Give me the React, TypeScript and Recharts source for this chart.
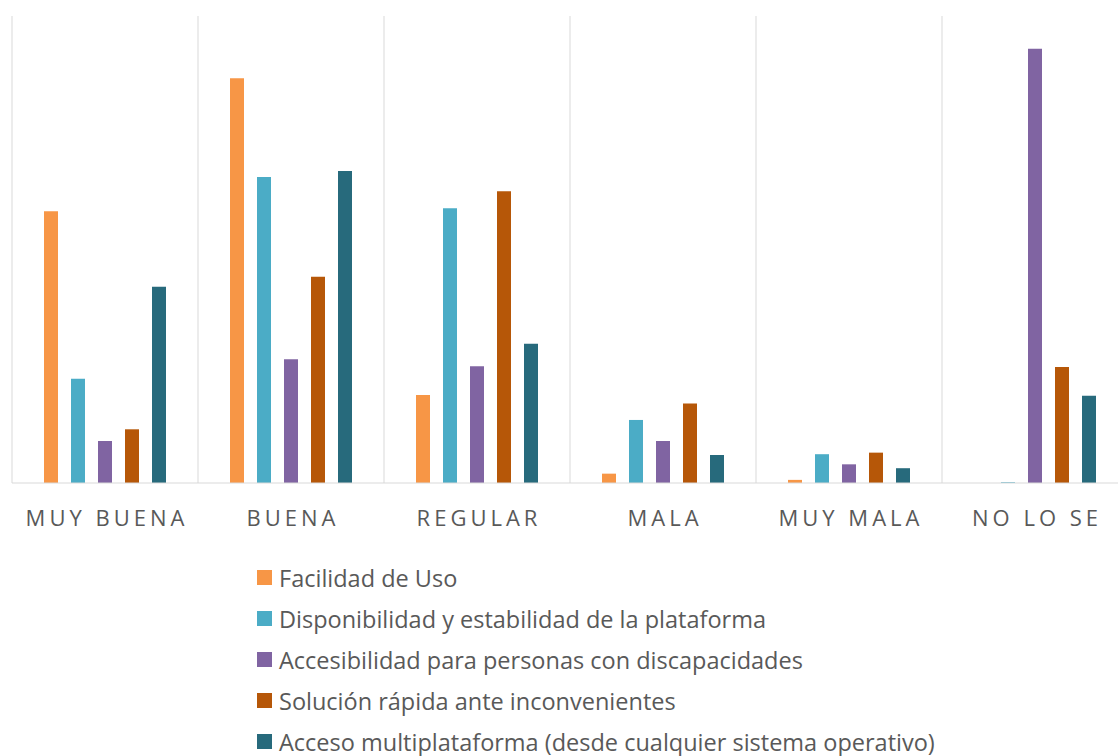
import { BarChart, Bar, XAxis, YAxis, CartesianGrid, Legend } from 'recharts';

const categories = ['MUY BUENA', 'BUENA', 'REGULAR', 'MALA', 'MUY MALA', 'NO LO SE'];

const facilidad = [34.9, 52.0, 11.3, 1.2, 0.4, 0];
const disponibilidad = [13.4, 39.3, 35.3, 8.1, 3.7, 0.1];
const accesibilidad = [5.4, 15.9, 15.0, 5.4, 2.4, 55.8];
const solucion = [6.9, 26.5, 37.5, 10.2, 3.9, 14.9];
const multiplataforma = [25.2, 40.1, 17.9, 3.6, 1.9, 11.2];

const series = [
  { key: 'facilidad', name: 'Facilidad de Uso', color: '#F79646', values: facilidad },
  { key: 'disponibilidad', name: 'Disponibilidad y estabilidad de la plataforma', color: '#4BACC6', values: disponibilidad },
  { key: 'accesibilidad', name: 'Accesibilidad para personas con discapacidades', color: '#8064A2', values: accesibilidad },
  { key: 'solucion', name: 'Solución rápida ante inconvenientes', color: '#B65708', values: solucion },
  { key: 'multiplataforma', name: 'Acceso multiplataforma (desde cualquier sistema operativo)', color: '#276A7C', values: multiplataforma },
];

const data = categories.map((name, i) => {
  const row: Record<string, string | number> = { name };
  series.forEach((s) => {
    row[s.key] = s.values[i];
  });
  return row;
});

const FONT = '"Open Sans", "Noto Sans", sans-serif';

const CategoryTick = ({ x, y, payload }: any) => (
  <text
    x={x + 2}
    y={y + 35}
    textAnchor="middle"
    fill="#595959"
    fontSize={22}
    fontFamily={FONT}
    letterSpacing={4}
  >
    {payload.value}
  </text>
);

const LegendContent = () => (
  <div style={{ fontFamily: FONT, fontSize: 23.5, color: '#595959' }}>
    {series.map((s) => (
      <div key={s.key} style={{ display: 'flex', alignItems: 'center', height: 41, whiteSpace: 'nowrap' }}>
        <span style={{ display: 'inline-block', width: 15, height: 15, background: s.color, marginRight: 7 }} />
        <span>{s.name}</span>
      </div>
    ))}
  </div>
);

export default function App() {
  return (
    <div style={{ position: 'absolute', left: 0, top: 0, width: 1118, height: 756, overflow: 'hidden', background: '#fff' }}>
      <BarChart
        width={1130}
        height={756}
        data={data}
        margin={{ top: 16, right: 2, bottom: 0, left: 12 }}
        barCategoryGap={32}
        barGap={13}
        barSize={14}
      >
        <CartesianGrid
          horizontal={false}
          stroke="#d9d9d9"
          verticalCoordinatesGenerator={({ offset }: any) =>
            categories.map((_, i) => offset.left + (i * offset.width) / categories.length)
          }
        />
        <XAxis
          dataKey="name"
          height={273}
          tickLine={false}
          axisLine={{ stroke: '#d9d9d9' }}
          tick={<CategoryTick />}
          interval={0}
        />
        <YAxis hide domain={[0, 60]} />
        <Legend
          layout="vertical"
          align="center"
          verticalAlign="middle"
          content={<LegendContent />}
          wrapperStyle={{ top: 557, left: 257, width: 850 }}
        />
        {series.map((s) => (
          <Bar key={s.key} dataKey={s.key} name={s.name} fill={s.color} isAnimationActive={false} />
        ))}
      </BarChart>
    </div>
  );
}
